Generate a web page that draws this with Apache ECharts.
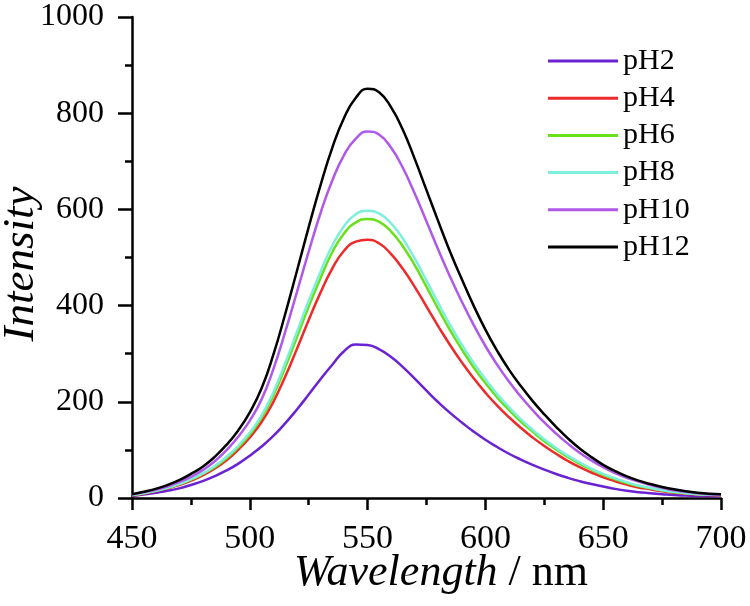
<!DOCTYPE html>
<html><head><meta charset="utf-8">
<script src="https://cdn.jsdelivr.net/npm/echarts@6/dist/echarts.min.js"></script>
<style>html,body{margin:0;padding:0;background:#fff}#c{width:750px;height:606px}</style>
</head><body><div id="c"></div>
<script>
const wavelength = [450,455,460,465,470,475,480,485,490,495,500,505,510,515,520,525,530,535,540,545,550,555,560,565,570,575,580,585,590,595,600,605,610,615,620,625,630,635,640,645,650,655,660,665,670,675,680,685,690,695,700];
const pH2  = [4,7,11,15,20,27,35,45,57,71,88,107,129,155,184,215,247,277,305,319,318,309,293,272,248,223,199,177,157,138,121,106,92,80,69,59,50,42,35,29,24,19,15,12,10,8,6,5,4,4,3];
const pH4  = [5,9,14,20,27,36,47,61,78,100,126,158,200,252,310,370,427,477,514,533,537,529,507,476,439,398,357,318,282,249,219,192,168,146,126,108,92,77,64,53,43,35,28,22,18,14,11,9,7,6,5];
const pH6  = [6,10,15,21,29,38,50,64,82,105,132,167,213,271,334,398,457,511,550,573,580,574,554,523,484,439,393,349,309,272,239,209,183,159,138,118,101,85,71,59,48,39,31,25,20,16,12,10,8,7,6];
const pH8  = [6,10,15,21,29,39,51,66,85,108,136,172,220,280,345,410,470,525,565,590,597,591,571,539,498,452,405,360,319,281,247,216,189,164,142,122,104,88,74,61,50,41,33,26,21,16,13,10,8,7,6];
const pH10 = [7,12,17,24,33,44,58,76,99,127,161,205,268,345,428,512,592,660,713,747,762,755,728,686,633,575,516,460,408,360,316,277,242,211,183,157,134,113,94,78,64,52,42,34,27,21,16,13,10,8,7];
const pH12 = [8,13,19,27,37,50,65,85,110,140,178,228,298,382,472,563,650,728,790,832,851,843,812,765,705,640,575,512,455,400,350,306,267,233,202,174,148,124,103,85,69,56,45,36,29,23,18,14,11,9,8];
const seriesNames = ['pH2','pH4','pH6','pH8','pH10','pH12'];
const seriesData = [pH2,pH4,pH6,pH8,pH10,pH12];
const colors = ['#6a22d2','#ee2a2a','#6ae01a','#7eeedd','#b058ea','#000000'];
const xTicks = [450,500,550,600,650,700];
const yTicks = [0,200,400,600,800,1000];
const yTitle = 'Intensity';
const xTitleMain = 'Wavelength';
const xTitleUnit = ' / nm';

const chart = echarts.init(document.getElementById('c'));
const serif = '"Liberation Serif","Times New Roman",serif';
chart.setOption({
  animation:false,
  backgroundColor:'#fff',
  grid:{left:132,right:29,top:17,bottom:108,containLabel:false,outerBoundsMode:'none'},
  graphic:[{
    type:'text', x:21, y:264, rotation:Math.PI/2,
    style:{text:yTitle, font:'italic 45px "Liberation Serif"', fill:'#000', align:'center', verticalAlign:'middle'}
  },{
    type:'text', x:441, y:573,
    style:{text:'{i|'+xTitleMain+'}{n|'+xTitleUnit+'}', fill:'#000', align:'center', verticalAlign:'middle',
      font:'44px "Liberation Serif"',
      rich:{i:{font:'italic 44px "Liberation Serif"',fill:'#000'},n:{font:'44px "Liberation Serif"',fill:'#000'}}}
  }],
  legend:{
    left:543, top:41, orient:'vertical',
    itemWidth:70, itemHeight:22, itemGap:7.2,
    textStyle:{fontFamily:serif,fontSize:30,color:'#000',lineHeight:30},
    data:seriesNames.map(n=>({name:n,icon:'path://M0,0L70,0L70,3L0,3Z'}))
  },
  xAxis:{
    type:'value', min:450, max:700, interval:50,
    axisLine:{show:true,onZero:false,lineStyle:{color:'#000',width:2.5}},
    axisTick:{show:true,inside:false,length:12,lineStyle:{color:'#000',width:2.5}},
    minorTick:{show:true,splitNumber:2,length:7,lineStyle:{color:'#000',width:2.5}},
    splitLine:{show:false},
    axisLabel:{fontFamily:serif,fontSize:34,color:'#000',margin:24,
      formatter:v=>xTicks.includes(v)?String(v):''}
  },
  yAxis:{
    type:'value', min:0, max:1000, interval:200,
    axisLine:{show:true,onZero:false,lineStyle:{color:'#000',width:2.5}},
    axisTick:{show:true,inside:false,length:14,lineStyle:{color:'#000',width:2.5}},
    minorTick:{show:true,splitNumber:2,length:7,lineStyle:{color:'#000',width:2.5}},
    splitLine:{show:false},
    axisLabel:{fontFamily:serif,fontSize:32,color:'#000',margin:28,
      formatter:v=>yTicks.includes(v)?String(v):''}
  },
  series:seriesNames.map((n,k)=>({
    name:n, type:'line', symbol:'none', smooth:true, clip:true,
    data:wavelength.map((w,i)=>[w,seriesData[k][i]]),
    lineStyle:{color:colors[k],width:2.5}, itemStyle:{color:colors[k]}
  }))
});
</script></body></html>
